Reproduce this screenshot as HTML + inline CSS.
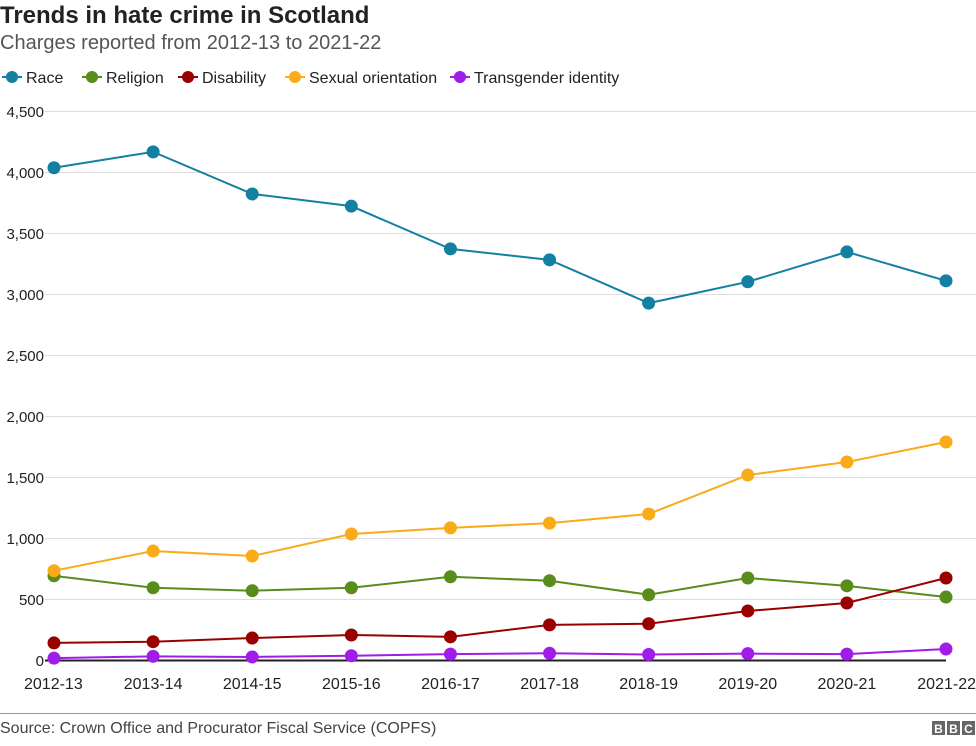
<!DOCTYPE html>
<html><head><meta charset="utf-8"><style>
body{margin:0;background:#fff;font-family:"Liberation Sans",Arial,sans-serif;}
svg text{font-family:"Liberation Sans",Arial,sans-serif;}
</style></head><body>
<svg id="c" width="976" height="741" xmlns="http://www.w3.org/2000/svg">
<text x="0" y="23" font-size="24" font-weight="bold" fill="#222">Trends in hate crime in Scotland</text>
<text x="0" y="49" font-size="20" fill="#555">Charges reported from 2012-13 to 2021-22</text>
<g id="grid"></g><g id="legend"></g><g id="series"></g>
<line x1="0" y1="713.5" x2="976" y2="713.5" stroke="#999"/>
<text x="0" y="733" font-size="16" fill="#444">Source: Crown Office and Procurator Fiscal Service (COPFS)</text>
<g>
<rect x="932" y="721" width="13" height="14" fill="#666"/><rect x="947" y="721" width="13" height="14" fill="#666"/><rect x="962" y="721" width="13" height="14" fill="#666"/>
<text x="938.5" y="733" font-size="12" font-weight="bold" fill="#fff" text-anchor="middle">B</text>
<text x="953.5" y="733" font-size="12" font-weight="bold" fill="#fff" text-anchor="middle">B</text>
<text x="968.5" y="733" font-size="12" font-weight="bold" fill="#fff" text-anchor="middle">C</text>
</g>
</svg>
<script>
const categories=["2012-13","2013-14","2014-15","2015-16","2016-17","2017-18","2018-19","2019-20","2020-21","2021-22"];
const seriesNames=["Race","Religion","Disability","Sexual orientation","Transgender identity"];
const race=[4035,4165,3820,3720,3370,3280,2925,3100,3345,3108];
const religion=[690,592,568,592,682,650,535,672,608,516];
const disability=[140,150,180,205,190,288,297,402,467,672];
const sexualOrientation=[732,893,852,1033,1083,1122,1197,1516,1623,1787];
const transgender=[15,30,25,35,48,55,45,52,48,90];
const yTicks=[0,500,1000,1500,2000,2500,3000,3500,4000,4500];
const yTickLabels=["0","500","1,000","1,500","2,000","2,500","3,000","3,500","4,000","4,500"];
const colors=["#1380A1","#588C1B","#990000","#FAAB18","#A01CE8"];
const allSeries=[race,religion,disability,sexualOrientation,transgender];
const NS="http://www.w3.org/2000/svg";
const x0=54,x1=946,y0=660,y1=111;
const xs=i=>x0+(x1-x0)*i/(categories.length-1);
const ys=v=>y0-(y0-y1)*v/4500;
function mk(t,a,p){const e=document.createElementNS(NS,t);for(const k in a)e.setAttribute(k,a[k]);p.appendChild(e);return e;}
const grid=document.getElementById('grid');
yTicks.forEach((v,i)=>{
 if(v>0){const l=mk('line',{x1:45,x2:976,y1:ys(v)+0.5,y2:ys(v)+0.5,stroke:'#ddd'},grid);
 
 }
 const t=mk('text',{x:44,y:ys(v)+6,'font-size':15,fill:'#222','text-anchor':'end'},grid);
 t.textContent=yTickLabels[i];
 
 
});
const base=mk('line',{x1:45,x2:946,y1:y0+0.5,y2:y0+0.5,stroke:'#222','stroke-width':2},grid);


categories.forEach((c,i)=>{
 let anchor='middle',x=xs(i);
 if(i==0){anchor='start';x=24;} if(i==categories.length-1){anchor='end';x=976;}
 const t=mk('text',{x:x,y:689,'font-size':16,fill:'#222','text-anchor':anchor},grid);
 t.textContent=c;
 
 
});
const lg=document.getElementById('legend');
const legendX=[2,82,178,285,450];
seriesNames.forEach((n,i)=>{
 const lx=legendX[i];
 const g=mk('g',{},lg);
 
 
 mk('line',{x1:lx,x2:lx+20,y1:77,y2:77,stroke:colors[i],'stroke-width':2},g);
 mk('circle',{cx:lx+10,cy:77,r:6,fill:colors[i]},g);
 const t=mk('text',{x:lx+24,y:83,'font-size':16,fill:'#222'},g);t.textContent=n;
});
const sg=document.getElementById('series');
allSeries.forEach((s,k)=>{
 const g=mk('g',{},sg);
 
 
 mk('polyline',{points:s.map((v,i)=>xs(i)+','+ys(v)).join(' '),fill:'none',stroke:colors[k],'stroke-width':2},g);
 s.forEach((v,i)=>{
  const c=mk('circle',{cx:xs(i),cy:ys(v),r:6.5,fill:colors[k]},g);
  
  
 });
});
</script>
</body></html>
